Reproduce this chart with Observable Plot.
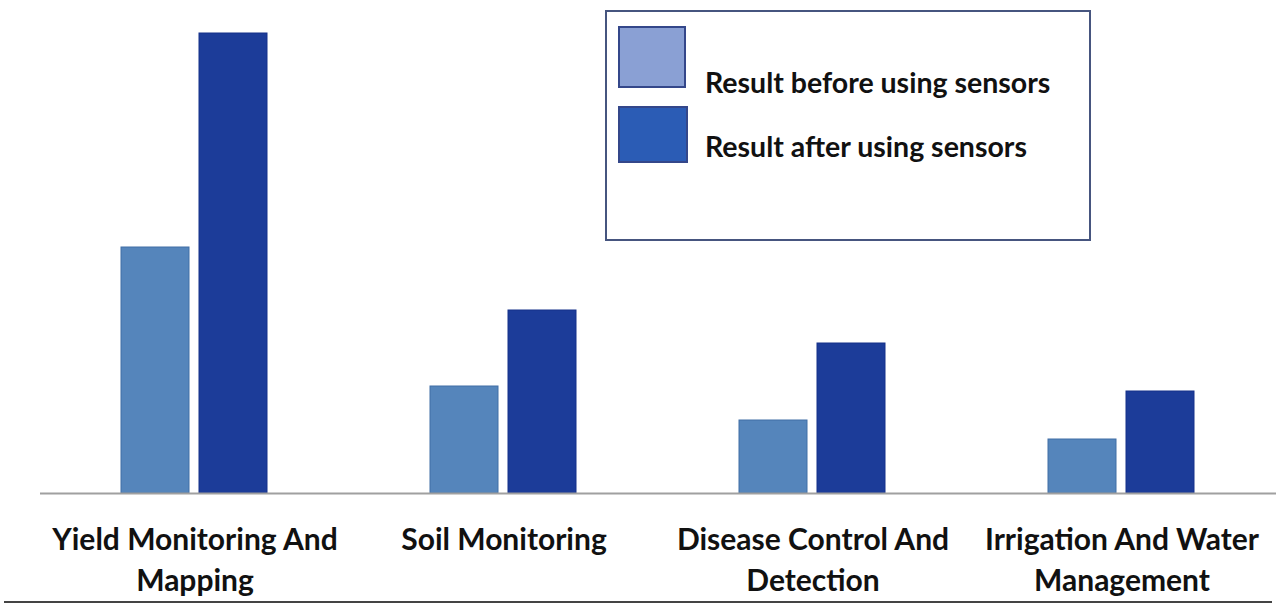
<!DOCTYPE html>
<html>
<head>
<meta charset="utf-8">
<script src="https://cdn.jsdelivr.net/npm/d3@7"></script>
<script src="https://cdn.jsdelivr.net/npm/@observablehq/plot@0.6"></script>
<style>
  html, body { margin: 0; padding: 0; background: #fff; }
  #wrap { position: relative; width: 1276px; height: 605px; overflow: hidden; font-family: Lato, "Open Sans", sans-serif; }
  #legend { position: absolute; left: 605px; top: 10px; width: 482px; height: 227px; border: 2px solid #46557f; background: #fff; }
  .sw { position: absolute; left: 11px; width: 68px; border: 2px solid #34478a; box-sizing: border-box; }
  .lt { position: absolute; left: 98px; font-weight: 700; font-size: 28.5px; color: #111; white-space: nowrap; line-height: 1; }
  #bottomline { position: absolute; left: 4px; width: 1268px; top: 601px; height: 2px; background: #444; }
</style>
</head>
<body>
<div id="wrap"></div>
<script>
const categories = ["Yield Monitoring And\nMapping", "Soil Monitoring", "Disease Control And\nDetection", "Irrigation And Water\nManagement"];
const seriesNames = ["Result before using sensors", "Result after using sensors"];
const beforeValues = [24.6, 10.7, 7.3, 5.4];
const afterValues = [46.0, 18.3, 15.0, 10.2];
const barColors = ["#5585bb", "#1c3c99"];
const barStrokes = ["#416ea6", "#15318a"];
const legendColors = ["#8aa0d4", "#2b5cb5"];

const data = [];
categories.forEach((c, i) => {
  data.push({category: c, series: seriesNames[0], value: beforeValues[i]});
  data.push({category: c, series: seriesNames[1], value: afterValues[i]});
});

const chart = Plot.plot({
  width: 1276,
  height: 605,
  marginTop: 33,
  marginBottom: 112,
  marginLeft: 39,
  marginRight: 0,
  style: {background: "transparent", fontFamily: "Lato, 'Open Sans', sans-serif"},
  fx: {domain: categories, padding: 0, label: null, axis: null},
  x: {domain: seriesNames, paddingInner: 0.128, paddingOuter: 1.043, axis: null},
  y: {domain: [0, 46], axis: null},
  color: {domain: seriesNames, range: barColors},
  marks: [
    Plot.barY(data, {fx: "category", x: "series", y: "value", fill: "series",
      stroke: d => barStrokes[seriesNames.indexOf(d.series)], strokeWidth: 1}),
    Plot.ruleY([0], {stroke: "#a0a0a0", strokeWidth: 2}),
    Plot.axisFx({anchor: "bottom", tickSize: 0, tickPadding: 28, fontSize: 30, fontWeight: "bold", lineHeight: 1.35, fill: "#111", label: null})
  ]
});

const wrap = document.getElementById("wrap");
wrap.appendChild(chart);

const legend = document.createElement("div");
legend.id = "legend";
legend.innerHTML = `
  <div class="sw" style="top:14px;height:62px;background:${legendColors[0]}"></div>
  <div class="lt" style="top:56px">${seriesNames[0]}</div>
  <div class="sw" style="top:94px;height:57px;width:70px;background:${legendColors[1]}"></div>
  <div class="lt" style="top:120px">${seriesNames[1]}</div>`;
wrap.appendChild(legend);

const bl = document.createElement("div");
bl.id = "bottomline";
wrap.appendChild(bl);
</script>
</body>
</html>
